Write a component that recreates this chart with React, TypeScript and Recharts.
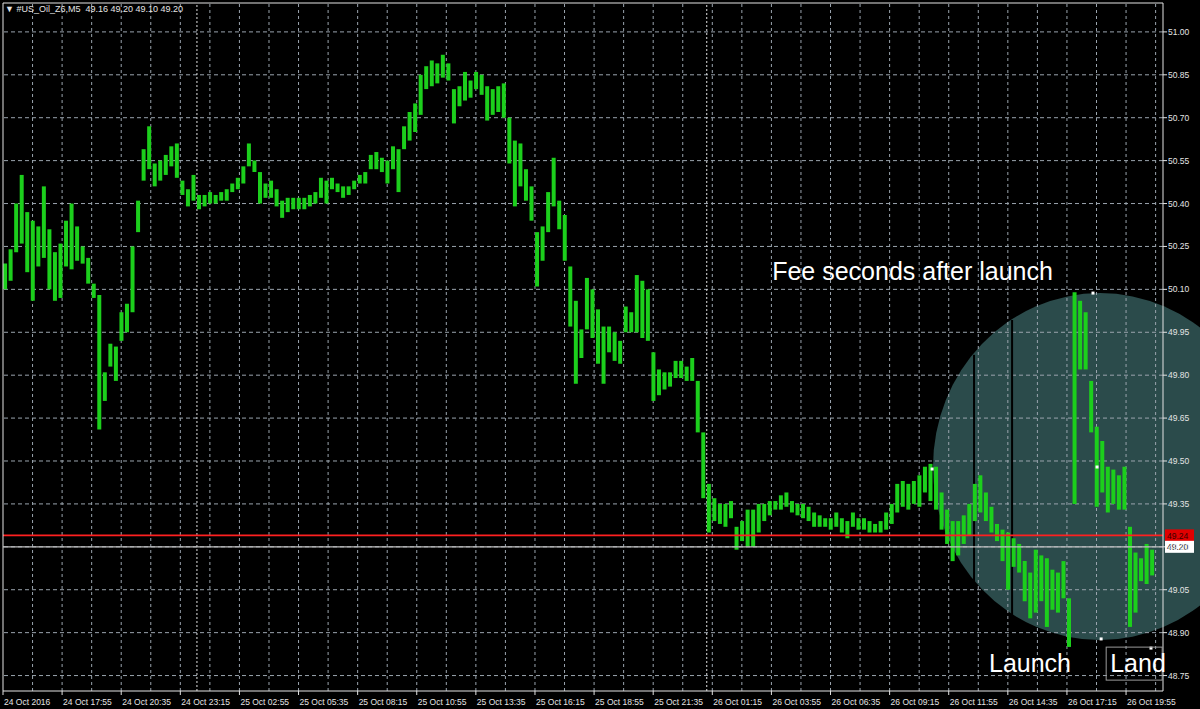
import React from "react";
import {
  ComposedChart,
  Bar,
  XAxis,
  YAxis,
  ReferenceLine,
  ReferenceArea,
  ReferenceDot,
} from "recharts";

const FONT = "'Liberation Sans', Arial, sans-serif";
const FG = "#e4e4e4";

const chartTitle = "#US_Oil_Z6,M5";
const lastQuote = ["49.16", "49.20", "49.10", "49.20"];

const timeLabels = [
  "24 Oct 2016", "24 Oct 17:55", "24 Oct 20:35", "24 Oct 23:15", "25 Oct 02:55",
  "25 Oct 05:35", "25 Oct 08:15", "25 Oct 10:55", "25 Oct 13:35", "25 Oct 16:15",
  "25 Oct 18:55", "25 Oct 21:35", "26 Oct 01:15", "26 Oct 03:55", "26 Oct 06:35",
  "26 Oct 09:15", "26 Oct 11:55", "26 Oct 14:35", "26 Oct 17:15", "26 Oct 19:55",
];

const priceTicks = [
  48.75, 48.9, 49.05, 49.2, 49.35, 49.5, 49.65, 49.8,
  49.95, 50.1, 50.25, 50.4, 50.55, 50.7, 50.85, 51.0,
];

// high / low of each drawn bar (one every 3 M5 bars)
const highs = [
  50.19, 50.24, 50.40, 50.50, 50.37, 50.34, 50.32, 50.46, 50.31, 50.23,
  50.26, 50.34, 50.40, 50.32, 50.25, 50.21, 50.12, 50.08, 49.81, 49.91,
  49.90, 50.02, 50.05, 50.25, 50.41, 50.59, 50.67, 50.54, 50.55, 50.57,
  50.60, 50.61, 50.48, 50.45, 50.50, 50.43, 50.43, 50.44, 50.43, 50.44,
  50.45, 50.47, 50.49, 50.53, 50.61, 50.55, 50.51, 50.47, 50.48, 50.45,
  50.41, 50.42, 50.42, 50.42, 50.42, 50.43, 50.44, 50.49, 50.48, 50.49,
  50.47, 50.46, 50.46, 50.48, 50.50, 50.51, 50.57, 50.58, 50.56, 50.55,
  50.60, 50.59, 50.67, 50.72, 50.75, 50.85, 50.88, 50.90, 50.89, 50.92,
  50.89, 50.80, 50.81, 50.86, 50.83, 50.86, 50.85, 50.81, 50.80, 50.81,
  50.82, 50.70, 50.62, 50.61, 50.52, 50.46, 50.30, 50.32, 50.44, 50.56,
  50.41, 50.36, 50.18, 50.06, 49.96, 50.14, 50.10, 50.03, 49.97, 49.97,
  49.95, 49.92, 50.04, 50.02, 50.15, 50.13, 50.10, 49.88, 49.82, 49.81,
  49.81, 49.85, 49.85, 49.83, 49.86, 49.78, 49.60, 49.42, 49.37, 49.35,
  49.35, 49.36, 49.27, 49.29, 49.33, 49.33, 49.35, 49.35, 49.36, 49.36,
  49.38, 49.39, 49.36, 49.35, 49.35, 49.34, 49.32, 49.31, 49.30, 49.30,
  49.32, 49.30, 49.29, 49.32, 49.30, 49.30, 49.29, 49.28, 49.29, 49.32,
  49.35, 49.42, 49.43, 49.42, 49.43, 49.45, 49.48, 49.49, 49.48, 49.39,
  49.33, 49.29, 49.29, 49.31, 49.35, 49.42, 49.45, 49.39, 49.34, 49.28,
  49.26, 49.25, 49.23, 49.21, 49.15, 49.11, 49.19, 49.17, 49.16, 49.12,
  49.11, 49.15, 49.02, 50.09, 50.06, 50.02, 49.78, 49.62, 49.57, 49.48,
  49.47, 49.45, 49.48, 49.27, 49.18, 49.16, 49.21, 49.19,
];

const lows = [
  50.10, 50.13, 50.23, 50.26, 50.16, 50.06, 50.18, 50.21, 50.10, 50.06,
  50.07, 50.18, 50.17, 50.20, 50.19, 50.12, 50.07, 49.61, 49.71, 49.83,
  49.78, 49.92, 49.95, 50.02, 50.30, 50.48, 50.52, 50.46, 50.48, 50.50,
  50.53, 50.49, 50.43, 50.39, 50.41, 50.38, 50.39, 50.40, 50.40, 50.41,
  50.41, 50.44, 50.45, 50.47, 50.53, 50.51, 50.40, 50.42, 50.42, 50.39,
  50.35, 50.37, 50.38, 50.38, 50.38, 50.39, 50.40, 50.42, 50.40, 50.45,
  50.44, 50.42, 50.43, 50.45, 50.47, 50.47, 50.52, 50.52, 50.51, 50.47,
  50.52, 50.44, 50.59, 50.62, 50.65, 50.71, 50.80, 50.81, 50.82, 50.84,
  50.83, 50.68, 50.74, 50.76, 50.77, 50.80, 50.78, 50.69, 50.71, 50.72,
  50.70, 50.54, 50.39, 50.46, 50.41, 50.34, 50.11, 50.20, 50.30, 50.39,
  50.31, 50.20, 49.97, 49.77, 49.86, 49.96, 49.93, 49.84, 49.77, 49.88,
  49.85, 49.84, 49.95, 49.95, 49.95, 49.93, 49.92, 49.71, 49.73, 49.75,
  49.76, 49.79, 49.79, 49.78, 49.78, 49.60, 49.37, 49.25, 49.29, 49.28,
  49.27, 49.30, 49.19, 49.22, 49.20, 49.20, 49.25, 49.29, 49.31, 49.33,
  49.33, 49.34, 49.32, 49.31, 49.30, 49.29, 49.27, 49.27, 49.27, 49.26,
  49.27, 49.25, 49.23, 49.27, 49.26, 49.26, 49.25, 49.25, 49.25, 49.26,
  49.28, 49.32, 49.34, 49.33, 49.35, 49.34, 49.39, 49.36, 49.33, 49.26,
  49.21, 49.15, 49.17, 49.21, 49.24, 49.29, 49.32, 49.29, 49.25, 49.22,
  49.15, 49.05, 49.13, 49.11, 49.01, 48.95, 48.97, 49.01, 48.92, 48.98,
  48.97, 49.02, 48.85, 49.35, 49.82, 49.82, 49.60, 49.34, 49.39, 49.32,
  49.35, 49.33, 49.33, 48.92, 48.97, 49.08, 49.07, 49.10,
];

const barsPerPoint = 3;
const barsPerLabel = 32;
const barsPerGrid = 16;
const visibleBars = 628;
const daySeparators = [105, 381];
const askPrice = 49.24;
const bidPrice = 49.2;
const priceRange = [48.696, 51.101];

// annotation anchors in (bar index, price)
const circleBox = { t1: 503.5, t2: 684.3, p1: 48.874, p2: 50.087 };
const circleLines = [
  { t: 525.7, from: 49.077, to: 49.871 },
  { t: 546.3, from: 48.962, to: 49.993 },
];
const circlePoints = [
  { t: 503, p: 49.472 },
  { t: 590.1, p: 50.087 },
  { t: 592.3, p: 49.479 },
  { t: 594.5, p: 48.878 },
  { t: 621.5, p: 48.846 },
];
const notes = [
  { text: "Fee seconds after launch", t: 416.4, p: 50.133, boxed: false },
  { text: "Launch", t: 533.8, p: 48.762, boxed: false },
  { text: "Land", t: 599.4, p: 48.762, boxed: true },
];

const chartData = highs.map((h, i) => ({ t: i * barsPerPoint + 1, range: [lows[i], h] }));
const labelTicks = timeLabels.map((_, i) => i * barsPerLabel);
const gridTicks = Array.from(
  { length: Math.floor((visibleBars - 1) / barsPerGrid) },
  (_, i) => (i + 1) * barsPerGrid
);

const TimeTick = (props: any) => {
  const { x, y, payload } = props;
  return (
    <text x={x + 1} y={y + 8} fill={FG} fontSize={8.5} fontFamily={FONT}>
      {timeLabels[Math.round(payload.value / barsPerLabel)]}
    </text>
  );
};

const CircleShape = (props: any) => {
  const { x, y, width, height } = props;
  return (
    <ellipse
      cx={x + width / 2}
      cy={y + height / 2}
      rx={Math.abs(width / 2)}
      ry={Math.abs(height / 2)}
      fill="#2b4b4b"
    />
  );
};

const PriceTag = ({ cx, cy, value, bg, fg }: any) => (
  <g>
    <rect x={cx + 2} y={cy - 6} width={29} height={12} fill={bg} />
    <text x={cx + 4} y={cy + 3.5} fill={fg} fontSize={8.5} fontFamily={FONT}>
      {value.toFixed(2)}
    </text>
  </g>
);

const NoteShape = ({ cx, cy, text, boxed }: any) => (
  <g>
    {boxed && (
      <rect x={cx - 4} y={cy - 25} width={56} height={33} fill="none" stroke="#9a9a9a" />
    )}
    <text x={cx} y={cy} fill="#ffffff" fontSize={25} fontFamily={FONT}>
      {text}
    </text>
  </g>
);

export default function App() {
  return (
    <div style={{ position: "absolute", left: 0, top: 0, width: 1200, height: 709, background: "#000" }}>
      <ComposedChart
        width={1200}
        height={709}
        data={chartData}
        margin={{ top: 3, right: 0, bottom: 0, left: 3 }}
      >
        <XAxis
          type="number"
          dataKey="t"
          domain={[0, visibleBars]}
          ticks={labelTicks}
          interval={0}
          allowDataOverflow
          height={18}
          tickSize={4}
          tickMargin={2}
          axisLine={{ stroke: FG }}
          tickLine={{ stroke: FG }}
          tick={<TimeTick />}
        />
        <YAxis
          orientation="right"
          type="number"
          domain={priceRange}
          ticks={priceTicks}
          interval={0}
          allowDataOverflow
          width={37}
          tickSize={4}
          tickMargin={1}
          axisLine={{ stroke: FG }}
          tickLine={{ stroke: FG }}
          tick={{ fill: FG, fontSize: 8.5, fontFamily: FONT }}
          tickFormatter={(v: number) => v.toFixed(2)}
        />

        <ReferenceArea
          x1={circleBox.t1}
          x2={circleBox.t2}
          y1={circleBox.p1}
          y2={circleBox.p2}
          ifOverflow="hidden"
          shape={<CircleShape />}
          zIndex={-50}
        />

        {priceTicks.map((p) => (
          <ReferenceLine key={`h${p}`} y={p} stroke="#9aa4ae" strokeDasharray="4 3" zIndex={-40} />
        ))}
        {gridTicks.map((t) => (
          <ReferenceLine key={`v${t}`} x={t} stroke="#9aa4ae" strokeDasharray="3 3" zIndex={-40} />
        ))}
        {daySeparators.map((t) => (
          <ReferenceLine key={`d${t}`} x={t} stroke="#e0e0e0" strokeDasharray="2 2" zIndex={-40} />
        ))}
        {circleLines.map((c) => (
          <ReferenceLine
            key={`c${c.t}`}
            segment={[{ x: c.t, y: c.from }, { x: c.t, y: c.to }]}
            stroke="#000"
            strokeWidth={2}
            zIndex={-30}
          />
        ))}

        <Bar
          dataKey="range"
          fill="#1ccf1c"
          barSize={4}
          isAnimationActive={false}
          zIndex={100}
        />

        <ReferenceLine y={askPrice} stroke="#ff2020" strokeWidth={1.6} zIndex={200} />
        <ReferenceLine y={bidPrice} stroke="#c0c0c0" strokeWidth={1.3} zIndex={200} />
        <ReferenceLine y={priceRange[1]} stroke={FG} zIndex={200} />
        <ReferenceLine x={0} stroke={FG} zIndex={200} />

        {circlePoints.map((d) => (
          <ReferenceDot
            key={`p${d.t}`}
            x={d.t}
            y={d.p}
            ifOverflow="visible"
            zIndex={600}
            shape={(props: any) => (
              <rect x={props.cx - 1.5} y={props.cy - 1.5} width={3} height={3} fill="#fff" />
            )}
          />
        ))}
        {notes.map((n) => (
          <ReferenceDot
            key={n.text}
            x={n.t}
            y={n.p}
            ifOverflow="visible"
            zIndex={600}
            shape={(props: any) => <NoteShape {...props} text={n.text} boxed={n.boxed} />}
          />
        ))}
        <ReferenceDot
          x={visibleBars}
          y={askPrice}
          ifOverflow="visible"
          zIndex={700}
          shape={(props: any) => <PriceTag {...props} value={askPrice} bg="#e00000" fg="#3a0000" />}
        />
        <ReferenceDot
          x={visibleBars}
          y={bidPrice}
          ifOverflow="visible"
          zIndex={700}
          shape={(props: any) => <PriceTag {...props} value={bidPrice} bg="#ffffff" fg="#000000" />}
        />
      </ComposedChart>
      <div
        style={{
          position: "absolute",
          left: 5,
          top: 4,
          color: FG,
          fontSize: 9,
          fontFamily: FONT,
          whiteSpace: "pre",
          lineHeight: "10px",
        }}
      >
        {`▼ ${chartTitle}  ${lastQuote.join(" ")}`}
      </div>
    </div>
  );
}
